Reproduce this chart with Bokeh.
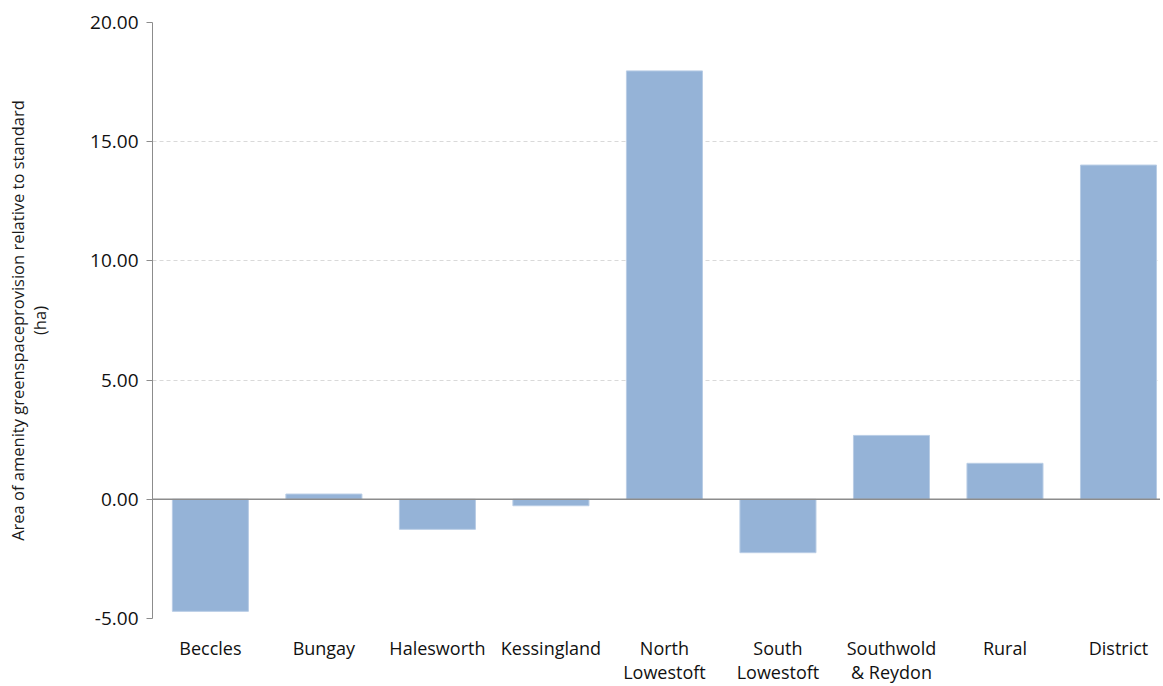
from bokeh.plotting import figure
from bokeh.models import Range1d, FixedTicker, NumeralTickFormatter, Span
from bokeh.embed import file_html
from bokeh.resources import INLINE

categories = ["Beccles", "Bungay", "Halesworth", "Kessingland", "North Lowestoft",
              "South Lowestoft", "Southwold & Reydon", "Rural", "District"]
tick_labels = ["Beccles", "Bungay", "Halesworth", "Kessingland", "North\nLowestoft",
               "South\nLowestoft", "Southwold\n& Reydon", "Rural", "District"]
values = [-4.70, 0.22, -1.26, -0.27, 17.97, -2.24, 2.68, 1.51, 14.02]
y_ticks = [-5, 0, 5, 10, 15, 20]

xs = list(range(len(categories)))

p = figure(width=1160, height=684, output_backend="svg", toolbar_location=None,
           x_range=Range1d(-0.51, 8.37), y_range=Range1d(-5, 20),
           frame_height=596,
           min_border_left=152, min_border_top=22, min_border_bottom=60, min_border_right=0)
p.outline_line_color = None

p.vbar(x=xs, top=values, bottom=0, width=0.67, fill_color="#95b3d7",
       line_color="#b9cde5", line_width=1)

zero = Span(location=0, dimension="width", line_color="#8c8c8c", line_width=1.5)
p.add_layout(zero)

# y axis
p.yaxis.ticker = FixedTicker(ticks=y_ticks)
p.yaxis.formatter = NumeralTickFormatter(format="0.00")
p.yaxis.axis_line_color = "#8c8c8c"
p.yaxis.major_tick_line_color = "#8c8c8c"
p.yaxis.major_tick_out = 6
p.yaxis.major_tick_in = 0
p.yaxis.minor_tick_line_color = None
p.yaxis.major_label_text_font = "Open Sans"
p.yaxis.major_label_text_font_size = "19px"
p.yaxis.major_label_text_color = "#111111"
p.yaxis.major_label_standoff = 8
p.yaxis.axis_label = "Area of amenity greenspaceprovision relative to standard\n(ha)"
p.yaxis.axis_label_text_font = "Open Sans"
p.yaxis.axis_label_text_font_style = "normal"
p.yaxis.axis_label_text_font_size = "16.5px"
p.yaxis.axis_label_text_line_height = 0.95
p.yaxis.axis_label_text_color = "#1a1a1a"
p.yaxis.axis_label_standoff = 36

# x axis
p.xaxis.ticker = FixedTicker(ticks=xs)
p.xaxis.major_label_overrides = {i: t for i, t in zip(xs, tick_labels)}
p.xaxis.axis_line_color = None
p.xaxis.major_tick_line_color = None
p.xaxis.minor_tick_line_color = None
p.xaxis.major_label_text_font = "Open Sans"
p.xaxis.major_label_text_font_size = "18px"
p.xaxis.major_label_text_line_height = 1.0
p.xaxis.major_label_text_color = "#111111"
p.xaxis.major_label_standoff = 11

p.xgrid.grid_line_color = None
p.ygrid.ticker = FixedTicker(ticks=y_ticks)
p.ygrid.grid_line_color = "#d9d9d9"
p.ygrid.grid_line_dash = "4 3"

open("out.html", "w").write(file_html(p, INLINE))
